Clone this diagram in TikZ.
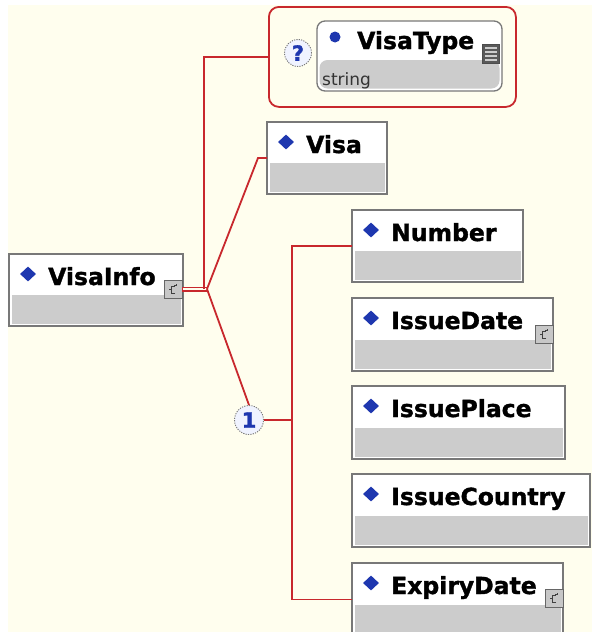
\documentclass[tikz,border=0pt]{standalone}
\usepackage{fontspec}
\setmainfont{DejaVu Sans}[BoldFeatures={FakeBold=1.4}]
\usetikzlibrary{shapes.geometric}
\definecolor{cream}{RGB}{255,254,238}
\definecolor{boxgray}{RGB}{120,120,120}
\definecolor{fillgray}{RGB}{204,204,204}
\definecolor{conred}{RGB}{200,40,45}
\definecolor{diamblue}{RGB}{30,55,175}
\definecolor{circfill}{RGB}{240,243,255}
\tikzset{
  elbox/.style={draw=boxgray, line width=1.3pt, fill=white, anchor=north west,
    inner sep=0pt, outer sep=0pt,
    path picture={\fill[fillgray] ([shift={(2.5pt,2.5pt)}]path picture bounding box.south west)
      rectangle ([shift={(-2.5pt,31pt)}]path picture bounding box.south east);}},
  lbl/.style={font=\fontsize{23.5}{28}\selectfont\bfseries, inner sep=0pt, anchor=base west, text=black},
  diam/.style={diamond, fill=diamblue, minimum width=16pt, minimum height=15pt, inner sep=0pt},
  cicon/.style={draw=black!60, fill=black!22, line width=0.8pt, minimum width=18pt, minimum height=18pt, inner sep=0pt,
    path picture={\draw[black!75, line width=0.8pt]
      ([shift={(2pt,-4pt)}]path picture bounding box.center) -- ++(-3.5pt,0) -- ++(0,7pt) -- ++(3.5pt,0)
      ([shift={(-1.5pt,0pt)}]path picture bounding box.center) -- ++(-2.5pt,0)
      ([shift={(1pt,4pt)}]path picture bounding box.center) -- ++(2pt,0) -- ++(0,1.5pt);}},
  conn/.style={draw=conred, line width=1.8pt},
  occ/.style={circle, draw=boxgray, dashed, dash pattern=on 1.2pt off 1.2pt, line width=0.9pt, fill=circfill,
    inner sep=0pt, text=diamblue, font=\fontsize{21}{24}\selectfont\bfseries},
}
\newcommand\xsdel[6]{%
  \node[elbox, minimum width=#4pt, minimum height=#5pt] (#1) at (#2,#3) {};
  \node[diam] (#1d) at ([shift={(19pt,-20pt)}]#1.north west) {};
  \node[lbl] (#1t) at ([shift={(39pt,-31pt)}]#1.north west) {#6};
}
\begin{document}
\begin{tikzpicture}[x=1pt,y=-1pt]
\useasboundingbox (0,0) rectangle (592,632);
\fill[white] (0,0) rectangle (592,632);
\fill[cream] (8,5) rectangle (592,632);

% optional group
\node[draw=conred, line width=1.8pt, rounded corners=10pt, minimum width=247pt, minimum height=100pt,
  anchor=north west, inner sep=0pt] (grp) at (268,6) {};
\node[occ, minimum size=27pt] (opt) at (298,53) {?};
\node[elbox, rounded corners=8pt, minimum width=185pt, minimum height=70pt] (vtype) at (317,21) {};
\fill[diamblue] (335,37) circle (5.5pt);
\node[lbl] (vtypet) at (357,49) {VisaType};
\node[font=\fontsize{17}{20}\selectfont, text=black!80, inner sep=0pt, anchor=base west] (vtypes) at (322,85) {string};
\node[draw=black!70, fill=black!65, minimum width=17pt, minimum height=19pt, inner sep=0pt,
  path picture={\foreach \k in {-6,-2,2,6}{\draw[white!80!black, line width=1.3pt]
     ([shift={(-6pt,\k pt)}]path picture bounding box.center) -- ++(12pt,0);}}] (vtypei) at (491,54) {};

% elements
\xsdel{vinfo}{9}{254}{174}{72}{VisaInfo}
\node[cicon] (vinfoi) at (173,289) {};
\xsdel{visa}{267}{122}{120}{72}{Visa}
\xsdel{number}{352}{210}{171}{72}{Number}
\xsdel{idate}{352}{298}{201}{73}{IssueDate}
\node[cicon] (idatei) at (544,334) {};
\xsdel{iplace}{352}{386}{213}{73}{IssuePlace}
\xsdel{icountry}{352}{474}{238}{73}{IssueCountry}
\xsdel{expiry}{352}{563}{211}{73}{ExpiryDate}
\node[cicon] (expiryi) at (554,598) {};

% sequence compositor
\node[occ, minimum size=29pt] (one) at (249,420) {1};

% connectors
\coordinate (j) at (207,289);
\coordinate (jtop) at (204,289);
\coordinate (spine) at (292,420);
\draw[conred, line width=5pt] (vinfoi.east) -- (j);
\draw[cream, line width=1.8pt] ([xshift=0.5pt]vinfoi.east) -- (j);
\draw[conn] (jtop) |- (grp.west);
\draw[conn] (j) -- ([xshift=-9pt]visa.west) -- (visa.west);
\draw[conn] (j) -- (one.north);
\draw[conn] (one.east) -- (spine);
\draw[conn] (number.west) -| (spine) |- (expiry.west);
\end{tikzpicture}
\end{document}
